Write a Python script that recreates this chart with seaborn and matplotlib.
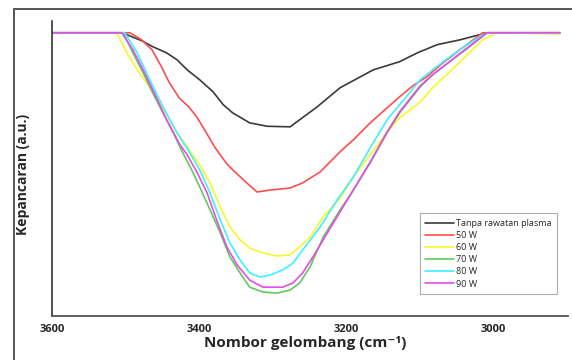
import numpy as np
import pandas as pd
import matplotlib
matplotlib.use("Agg")
import matplotlib.pyplot as plt
import seaborn as sns
from matplotlib.lines import Line2D

# ========================== DATA ==========================
series_names = ['Tanpa rawatan plasma', '50 W', '60 W', '70 W', '80 W', '90 W']
series_colors = ['#3a3a3a', '#ff4d4d', '#f7f72a', '#5ec95e', '#3ff0ff', '#e64ce6']

wn_black = [3600, 3505, 3498, 3478, 3463, 3444, 3430, 3416, 3399, 3381, 3367, 3354, 3331, 3307,
            3276, 3263, 3239, 3208, 3163, 3127, 3103, 3076, 3045, 3008, 2909]
t_black = [100, 100, 99.3, 97.2, 95.1, 92.9, 90.5, 86.9, 83.4, 79.2, 74.6, 71.7, 68.2, 67.0,
           66.8, 69.3, 73.9, 80.6, 86.9, 89.8, 92.9, 95.8, 97.5, 100, 100]

wn_50 = [3600, 3494, 3478, 3464, 3451, 3441, 3427, 3414, 3403, 3390, 3378, 3362, 3354, 3335, 3321,
         3303, 3276, 3259, 3235, 3208, 3190, 3167, 3144, 3127, 3109, 3090, 3068, 3045, 3014, 2909]
t_50 = [100, 100, 97.5, 94.0, 88.0, 82.7, 77.0, 73.9, 70.3, 64.7, 59.4, 53.7, 51.6, 47.0, 43.8,
        44.5, 45.2, 47.0, 50.9, 58.0, 62.2, 68.2, 73.5, 77.4, 81.3, 84.5, 89.4, 94.0, 100, 100]

wn_60 = [3600, 3512, 3498, 3484, 3467, 3453, 3435, 3416, 3399, 3385, 3371, 3358, 3344, 3331,
         3313, 3294, 3276, 3263, 3249, 3231, 3208, 3190, 3167, 3144, 3127, 3099, 3082, 3059,
         3035, 3014, 2995, 2909]
t_60 = [100, 100, 92.9, 86.9, 80.9, 75.3, 66.8, 59.7, 53.4, 47.0, 38.5, 31.5, 26.9, 24.0,
        22.3, 21.2, 21.6, 24.4, 27.9, 35.0, 41.7, 49.1, 56.9, 65.0, 70.0, 75.6, 80.6, 86.2,
        92.2, 97.5, 100, 99.6]

wn_70 = [3600, 3503, 3490, 3476, 3463, 3449, 3435, 3422, 3412, 3399, 3385, 3371, 3358, 3344,
         3331, 3313, 3294, 3276, 3263, 3249, 3231, 3208, 3190, 3167, 3144, 3127, 3099, 3082,
         3059, 3035, 3008, 2909]
t_70 = [100, 100, 92.9, 85.9, 78.8, 71.7, 64.7, 57.6, 52.7, 45.6, 37.5, 29.3, 20.9, 15.2,
        10.2, 8.5, 8.1, 9.2, 11.7, 17.3, 27.9, 37.5, 44.5, 54.1, 64.7, 71.7, 80.9, 85.2,
        89.8, 94.4, 100, 100]

wn_80 = [3600, 3501, 3484, 3467, 3449, 3430, 3415, 3399, 3385, 3371, 3358, 3344, 3331, 3317,
         3303, 3286, 3272, 3259, 3235, 3212, 3190, 3167, 3144, 3127, 3099, 3082, 3059, 3035,
         3014, 3004, 2909]
t_80 = [100, 100, 92.9, 83.4, 73.9, 64.7, 58.7, 51.6, 43.5, 33.9, 25.8, 19.8, 15.2, 13.8,
        14.5, 16.3, 18.7, 23.3, 31.5, 41.0, 49.1, 59.4, 69.3, 74.6, 83.4, 86.9, 91.5, 95.8,
        99.3, 100, 100]

wn_90 = [3600, 3505, 3490, 3476, 3463, 3444, 3426, 3416, 3403, 3389, 3376, 3362, 3348, 3331,
         3313, 3286, 3272, 3259, 3245, 3231, 3208, 3190, 3167, 3144, 3127, 3099, 3082,
         3059, 3035, 3008, 2909]
t_90 = [100, 100, 94.0, 86.9, 79.9, 69.3, 60.5, 56.9, 50.9, 43.5, 33.9, 24.4, 18.0, 12.7,
        10.2, 10.2, 11.7, 15.2, 20.9, 26.9, 36.8, 44.5, 54.4, 65.0, 72.1, 81.3, 85.2,
        89.8, 94.7, 100, 100]

x_ticks = [3600, 3400, 3200, 3000]

# ========================== FRAME ==========================
all_wn = [wn_black, wn_50, wn_60, wn_70, wn_80, wn_90]
all_t = [t_black, t_50, t_60, t_70, t_80, t_90]
df = pd.concat([
    pd.DataFrame({'wn': w, 't': t, 'sample': name})
    for name, w, t in zip(series_names, all_wn, all_t)
], ignore_index=True)

# ========================== PLOT ==========================
sns.set_style('white')
plt.rcParams['font.family'] = ['Open Sans', 'DejaVu Sans']

fig = plt.figure(figsize=(5.72, 3.6), dpi=100)
ax = fig.add_axes([0.0909, 0.122, 0.902, 0.820])

sns.lineplot(data=df, x='wn', y='t', hue='sample', hue_order=series_names,
             palette=series_colors, sort=False, estimator=None, units='sample',
             linewidth=1.2, ax=ax, legend=False)

ax.set_xlim(3600, 2898)
ax.set_ylim(0, 104.2)
ax.set_xticks(x_ticks)
ax.set_xticklabels([str(v) for v in x_ticks], fontsize=8, fontweight='bold')
ax.set_yticks([])
ax.tick_params(axis='x', length=3, width=1, color='#555555', pad=3)

for side in ['top', 'right']:
    ax.spines[side].set_visible(False)
ax.spines['left'].set_color('#222222')
ax.spines['bottom'].set_color('#555555')
ax.spines['left'].set_linewidth(1.1)
ax.spines['bottom'].set_linewidth(1.3)

ax.set_xlabel('Nombor gelombang (cm⁻¹)', fontsize=11, fontweight='bold')
ax.xaxis.set_label_coords(0.49, -0.068)
ax.set_ylabel('Kepancaran (a.u.)', fontsize=10, fontweight='bold')
ax.yaxis.set_label_coords(-0.042, 0.48)

handles = [Line2D([0], [0], color=c, lw=1.2) for c in series_colors]
leg = ax.legend(handles, series_names, loc='lower right', bbox_to_anchor=(0.979, 0.075),
                borderaxespad=0, fontsize=6.5, frameon=True, fancybox=False,
                handlelength=3.2, handletextpad=0.2, labelspacing=0.35, borderpad=0.6)
leg.get_frame().set_edgecolor('#999999')
leg.get_frame().set_linewidth(0.8)

# outer border of the original figure
fig.add_artist(Line2D([0.0245, 1.0], [0.975, 0.975], color='#555555', lw=1.4,
                      transform=fig.transFigure))
fig.add_artist(Line2D([0.0245, 0.0245], [0.0, 0.975], color='#555555', lw=1.4,
                      transform=fig.transFigure))

fig.savefig('out.png', dpi=100)
